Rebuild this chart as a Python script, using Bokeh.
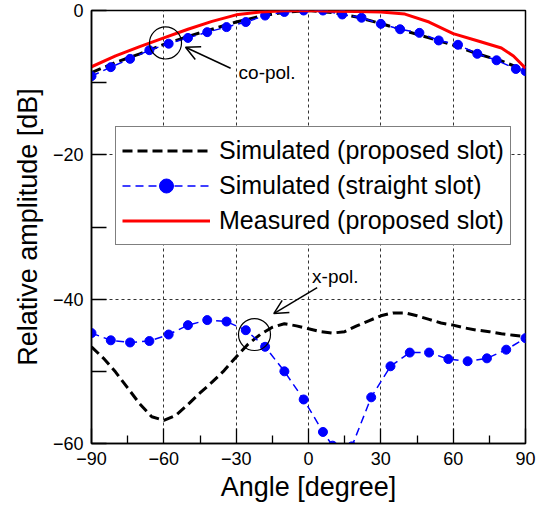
import numpy as np
from bokeh.plotting import figure
from bokeh.models import (Range1d, FixedTicker, Legend, LegendItem, ColumnDataSource,
                          Arrow, OpenHead, Label)
from bokeh.embed import file_html
from bokeh.resources import INLINE

# ---------------- data ----------------
ang_straight = [-90, -82, -74, -66, -58, -50, -42, -34, -26, -18, -10, -2, 6, 14, 22,
                30, 38, 46, 54, 62, 70, 78, 86, 90]
co_straight = [-9.1, -7.85, -6.7, -5.5, -4.6, -3.8, -3.0, -2.3, -1.6, -0.7, -0.2, 0.0,
               0.0, -0.55, -1.0, -1.85, -2.6, -3.1, -4.15, -4.75, -6.0, -6.9, -8.1, -8.4]

ang_straight_x = [-90, -82, -74, -66, -58, -50, -42, -34, -26, -18, -10, -2, 6, 10, 18,
                  26, 34, 42, 50, 58, 66, 74, 82, 90]
x_straight = [-44.7, -45.7, -46.0, -45.8, -44.9, -43.6, -42.9, -43.1, -44.3, -46.6, -50.0,
              -53.9, -58.4, -60.3, -60.4, -53.6, -49.3, -47.4, -47.4, -48.3, -48.6, -48.2,
              -47.0, -45.4]

ang_prop_co = [-90, -80, -70, -60, -50, -40, -30, -20, -10, 0, 10, 20, 30, 40, 50, 60, 70, 80, 90]
co_prop = [-8.6, -7.2, -6.0, -4.7, -3.6, -2.6, -1.6, -0.8, -0.25, 0.0, -0.3, -0.9, -1.8,
           -2.8, -3.8, -4.8, -6.0, -7.0, -8.3]

ang_prop_x = [-90, -85, -80, -75, -70, -65, -60, -55, -50, -45, -40, -35, -30, -25, -20,
              -15, -10, -5, 0, 5, 10, 15, 20, 25, 30, 35, 40, 45, 50, 55, 60, 65, 70,
              75, 80, 85, 90]
x_prop = [-46.6, -48.2, -50.1, -52.3, -54.5, -56.3, -56.8, -56.1, -54.6, -53.0, -51.5,
          -49.9, -48.0, -46.2, -44.9, -43.9, -43.4, -43.7, -44.1, -44.5, -44.7, -44.5,
          -43.7, -43.0, -42.3, -41.9, -41.9, -42.3, -42.8, -43.3, -43.6, -44.0, -44.3,
          -44.5, -44.8, -45.0, -45.2]

ang_meas = [-90, -80, -70, -60, -50, -40, -30, -20, -10, 0, 10, 20, 30, 40, 50, 60, 70, 80, 85, 90]
co_meas = [-7.8, -6.3, -5.0, -3.8, -2.6, -1.5, -0.6, -0.2, -0.05, 0.0, -0.1, -0.15, -0.2,
           -0.5, -1.6, -3.2, -4.2, -5.2, -6.3, -8.0]

x_ticks = [-90, -60, -30, 0, 30, 60, 90]
x_minor = [-75, -45, -15, 15, 45, 75]
y_ticks = [0, -20, -40, -60]
y_minor = [-10, -30, -50]

FONT = "Liberation Sans"

p = figure(width=544, height=510, output_backend="svg", toolbar_location=None,
           x_range=Range1d(-90, 90), y_range=Range1d(-60, 0),
           min_border_left=91, min_border_right=19, min_border_top=10, min_border_bottom=67)
p.background_fill_color = "white"
p.border_fill_color = "white"
p.outline_line_color = "black"
p.outline_line_width = 1.5
p.outline_line_alpha = 1

# axes
p.xaxis.ticker = FixedTicker(ticks=x_ticks, minor_ticks=x_minor)
p.yaxis.ticker = FixedTicker(ticks=y_ticks, minor_ticks=y_minor)
for ax in (p.xaxis, p.yaxis):
    ax.major_tick_in = 15
    ax.major_tick_out = 0
    ax.axis_line_width = 1.5
    ax.major_tick_line_width = 1.3
    ax.minor_tick_line_width = 1.3
    ax.major_tick_line_color = "black"
    ax.minor_tick_line_color = "black"
    ax.axis_line_color = "black"
    ax.major_label_text_font = FONT
    ax.major_label_text_font_size = "18px"
    ax.major_label_text_color = "black"
    ax.axis_label_text_font = FONT
    ax.axis_label_text_font_style = "normal"
    ax.axis_label_text_font_size = "27px"
    ax.axis_label_text_color = "black"
    ax.minor_tick_out = 0
p.xaxis.minor_tick_in = 8
p.yaxis.minor_tick_in = 15
p.xaxis.major_label_standoff = 8
p.yaxis.major_label_standoff = 8
p.xaxis.axis_label = "Angle [degree]"
p.yaxis.axis_label = "Relative amplitude [dB]"
p.xaxis.axis_label_standoff = 4
p.yaxis.axis_label_standoff = 7

p.xgrid.ticker = FixedTicker(ticks=[-60, -30, 0, 30, 60])
p.ygrid.ticker = FixedTicker(ticks=[-20, -40])
for g in (p.xgrid, p.ygrid):
    g.grid_line_color = "#333333"
    g.grid_line_dash = "3 3"
    g.grid_line_width = 1

# series
r_black_co = p.line(ang_prop_co, co_prop, line_color="black", line_width=3, line_dash="10 5")
r_black_x = p.line(ang_prop_x, x_prop, line_color="black", line_width=3, line_dash="10 5")
r_blue_co_l = p.line(ang_straight, co_straight, line_color="#0000FF", line_width=1.5, line_dash="8 5")
r_blue_co_m = p.scatter(ang_straight, co_straight, size=9, fill_color="#0000FF", line_color="#0000FF")
r_blue_x_l = p.line(ang_straight_x, x_straight, line_color="#0000FF", line_width=1.5, line_dash="8 5")
r_blue_x_m = p.scatter(ang_straight_x, x_straight, size=9, fill_color="#0000FF", line_color="#0000FF")
r_red = p.line(ang_meas, co_meas, line_color="#FF0000", line_width=3)

# legend-only glyphs (bigger marker)
dummy = ColumnDataSource(dict(x=[np.nan], y=[np.nan]))
d_line = p.line("x", "y", source=dummy, line_color="#0000FF", line_width=1.5, line_dash="8 5")
d_mark = p.scatter("x", "y", source=dummy, size=17, fill_color="#0000FF", line_color="#0000FF")

# annotations: circles + arrows + labels
p.scatter([-59.3, -22.4], [-4.5, -44.9], size=32, fill_color=None, line_color="black", line_width=1.2)
p.add_layout(Arrow(end=OpenHead(size=14, line_width=1.5, line_color="black"),
                   x_start=-32.3, y_start=-8.0, x_end=-51.0, y_end=-5.1,
                   line_width=1.5, line_color="black"))
p.add_layout(Arrow(end=OpenHead(size=14, line_width=1.5, line_color="black"),
                   x_start=3.6, y_start=-38.4, x_end=-14.4, y_end=-42.0,
                   line_width=1.5, line_color="black"))
p.add_layout(Label(x=-29.0, y=-8.6, text="co-pol.", text_font=FONT, text_font_size="19px",
                   text_baseline="middle", text_color="black"))
p.add_layout(Label(x=1.5, y=-36.9, text="x-pol.", text_font=FONT, text_font_size="19px",
                   text_baseline="middle", text_color="black"))

legend = Legend(items=[
    LegendItem(label="Simulated (proposed slot)", renderers=[r_black_co]),
    LegendItem(label="Simulated (straight slot)", renderers=[d_line, d_mark]),
    LegendItem(label="Measured (proposed slot)", renderers=[r_red]),
], location=(24, 198))
legend.label_text_font = FONT
legend.label_text_font_size = "25px"
legend.label_text_color = "black"
legend.glyph_width = 88
legend.glyph_height = 35
legend.label_standoff = 9
legend.padding = 6
legend.spacing = 0
legend.margin = 0
legend.border_line_color = "black"
legend.border_line_width = 1
legend.background_fill_color = "white"
legend.background_fill_alpha = 1
p.add_layout(legend, "center")

open("out.html", "w").write(file_html(p, INLINE))
